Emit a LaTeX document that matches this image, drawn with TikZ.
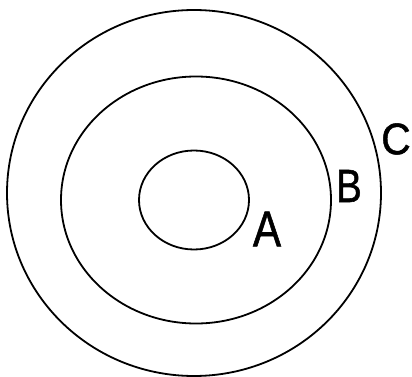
\documentclass[tikz,border=0pt]{standalone}
\usepackage{fontspec}
\setmainfont{Liberation Sans}
\newfontfamily\lblfont[FakeBold=1.2]{Liberation Sans}
\usetikzlibrary{shapes.geometric}
\tikzset{
  ring/.style={ellipse, draw=black, line width=1.8pt, inner sep=0pt, outer sep=0pt},
  lbl/.style={inner sep=0pt, font=\lblfont\fontsize{48}{48}\selectfont}
}
\begin{document}
\begin{tikzpicture}[x=1pt, y=-1pt]
\useasboundingbox (0,0) rectangle (412,377);
\node[ring, minimum width=374pt, minimum height=366pt] (C) at (194,193) {};
\node[ring, minimum width=270pt, minimum height=247pt] (B) at (196,200) {};
\node[ring, minimum width=110pt, minimum height=99pt] (A) at (194,200) {};
\node[lbl] (la) at (267,229) {\scalebox{0.88}[1.05]{A}};
\node[lbl] (lb) at (349,186) {\scalebox{0.8}[0.97]{B}};
\node[lbl] (lc) at (396,139) {\scalebox{0.85}[0.92]{C}};
\end{tikzpicture}
\end{document}
